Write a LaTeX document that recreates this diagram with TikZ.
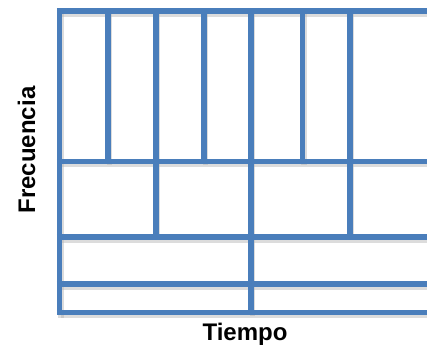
\documentclass[tikz,border=0pt]{standalone}
\usepackage{fontspec}
\setmainfont{Liberation Sans}
\definecolor{gridblue}{RGB}{74,126,187}
\begin{document}
\begin{tikzpicture}[x=1pt,y=-1pt,
  gline/.style={gridblue,line width=5.2pt},
  gshadow/.style={black!30,line width=5.2pt,opacity=0.45},
  lbl/.style={font=\bfseries\fontsize{24}{28}\selectfont,inner sep=0pt}]
\useasboundingbox (0,0) rectangle (427,349);
% shadows
\begin{scope}[shift={(1.5,3)}]
  \foreach \y in {11,161.5,237,284,312.5} \draw[gshadow] (59.5,\y) -- (430,\y);
  \draw[gshadow] (59.5,9) -- (59.5,314.5);
  \foreach \x in {108,204,302.5} \draw[gshadow] (\x,11) -- (\x,161.5);
  \foreach \x in {156,350} \draw[gshadow] (\x,11) -- (\x,237);
  \draw[gshadow] (251,11) -- (251,312.5);
\end{scope}
% grid lines
\foreach \y in {11,161.5,237,284,312.5} \draw[gline] (56.9,\y) -- (430,\y);
\draw[gline] (59.5,8.4) -- (59.5,315.1);
\foreach \x in {108,204,302.5} \draw[gline] (\x,11) -- (\x,161.5);
\foreach \x in {156,350} \draw[gline] (\x,11) -- (\x,237);
\draw[gline] (251,11) -- (251,312.5);
% labels
\node[lbl,anchor=base] (tiempo) at (245,340) {Tiempo};
\node[lbl,anchor=base,rotate=90] (frec) at (35,150) {Frecuencia};
\end{tikzpicture}
\end{document}
